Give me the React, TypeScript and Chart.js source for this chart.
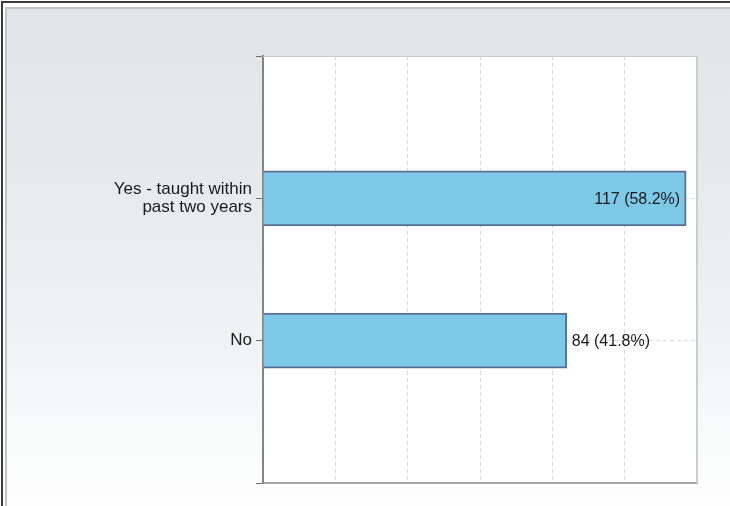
import { useEffect, useRef } from 'react';
import Chart from 'chart.js/auto';

const categories: (string | string[])[] = [['Yes - taught within', 'past two years'], 'No'];
const counts = [117, 84];
const percents = [58.2, 41.8];
const xTicks = [0, 20, 40, 60, 80, 100, 120];

const FONT = '"Liberation Sans", Arial, sans-serif';

// top/right frame of the plot area, plus white fill and value labels
const plotDecor = {
  id: 'plotDecor',
  beforeDraw(chart: any) {
    const { ctx, chartArea: a } = chart;
    ctx.save();
    ctx.fillStyle = '#ffffff';
    ctx.fillRect(a.left, a.top, a.right - a.left, a.bottom - a.top);
    ctx.restore();
  },
  beforeDatasetsDraw(chart: any) {
    const { ctx, chartArea: a } = chart;
    ctx.save();
    ctx.strokeStyle = '#c8c8c8';
    ctx.lineWidth = 1;
    ctx.beginPath();
    ctx.moveTo(a.left, a.top + 0.5);
    ctx.lineTo(a.right, a.top + 0.5);
    ctx.stroke();
    ctx.lineWidth = 2;
    ctx.strokeStyle = '#cdcdcd';
    ctx.beginPath();
    ctx.moveTo(a.right, a.top);
    ctx.lineTo(a.right, a.bottom);
    ctx.stroke();
    ctx.restore();
  },
  afterDatasetsDraw(chart: any) {
    const { ctx, chartArea: a } = chart;
    const meta = chart.getDatasetMeta(0);
    ctx.save();
    ctx.font = `16px ${FONT}`;
    ctx.fillStyle = '#1a1a1a';
    ctx.textBaseline = 'middle';
    meta.data.forEach((bar: any, i: number) => {
      const k = i - 1;
      if (k < 0 || k >= counts.length) return;
      const text = `${counts[k]} (${percents[k].toFixed(1)}%)`;
      const w = ctx.measureText(text).width;
      if (bar.x + 5 + w > a.right) {
        ctx.textAlign = 'right';
        ctx.fillText(text, bar.x - 6, bar.y + 1);
      } else {
        ctx.textAlign = 'left';
        ctx.fillText(text, bar.x + 5, bar.y + 1);
      }
    });
    ctx.restore();
  },
};

export default function App() {
  const chartRef = useRef<HTMLCanvasElement>(null);
  const chartInstance = useRef<Chart | null>(null);

  useEffect(() => {
    if (!chartRef.current) return;
    if (chartInstance.current) chartInstance.current.destroy();

    // empty slots above and below so the two bars sit at 1/3 and 2/3
    const labels = ['', ...categories, ''];
    const data = [null, ...counts, null];
    const lastY = labels.length - 1;

    chartInstance.current = new Chart(chartRef.current, {
      type: 'bar',
      data: {
        labels,
        datasets: [
          {
            data,
            backgroundColor: '#7ec8e8',
            borderColor: '#5a6f96',
            borderWidth: 2,
            barThickness: 55,
          },
        ],
      },
      plugins: [plotDecor],
      options: {
        indexAxis: 'y',
        animation: false,
        responsive: true,
        maintainAspectRatio: false,
        layout: { padding: { left: 0, top: 56, right: 33, bottom: 23 } },
        plugins: {
          legend: { display: false },
          tooltip: { enabled: false },
        },
        scales: {
          x: {
            type: 'linear',
            min: xTicks[0],
            max: xTicks[xTicks.length - 1],
            ticks: { stepSize: xTicks[1] - xTicks[0], display: false },
            grid: {
              drawTicks: false,
              color: (c: any) =>
                c.tick && (c.tick.value === xTicks[0] || c.tick.value === xTicks[xTicks.length - 1])
                  ? 'rgba(0,0,0,0)'
                  : '#d9d9d9',
            },
            border: { color: '#a4a4a4', width: 2, dash: [4, 3] },
            afterFit: (s: any) => {
              s.height = 0;
            },
          },
          y: {
            type: 'category',
            offset: false,
            grid: {
              offset: false,
              tickLength: 7,
              tickColor: '#6f6f6f',
              tickWidth: 1,
              color: (c: any) => (c.index === 0 || c.index === lastY ? 'rgba(0,0,0,0)' : '#d9d9d9'),
            },
            border: { color: '#858585', width: 2, dash: [4, 3] },
            ticks: {
              autoSkip: false,
              padding: 4,
              color: '#1a1a1a',
              font: { family: FONT, size: 17, lineHeight: 1.05 },
            },
            afterFit: (s: any) => {
              s.width = 263;
            },
          },
        },
      },
    });

    return () => {
      if (chartInstance.current) {
        chartInstance.current.destroy();
        chartInstance.current = null;
      }
    };
  }, []);

  return (
    <div
      style={{
        position: 'fixed',
        left: 0,
        top: 0,
        width: 730,
        height: 506,
        overflow: 'hidden',
        background: '#ffffff',
      }}
    >
      <div
        style={{
          position: 'absolute',
          left: 1,
          top: 1,
          width: 800,
          height: 600,
          borderLeft: '2px solid #3c3c3c',
          borderTop: '2px solid #3c3c3c',
        }}
      />
      <div
        style={{
          position: 'absolute',
          left: 5,
          top: 7,
          width: 800,
          height: 600,
          border: '2px solid #c4c4c4',
          background:
            'linear-gradient(180deg, #e2e4e9 0px, #e6e8ec 150px, #f1f2f4 330px, #fafbfb 440px, #fefefe 500px)',
        }}
      />
      <div style={{ position: 'absolute', left: 0, top: 0, width: 730, height: 506 }}>
        <canvas ref={chartRef}></canvas>
      </div>
    </div>
  );
}
